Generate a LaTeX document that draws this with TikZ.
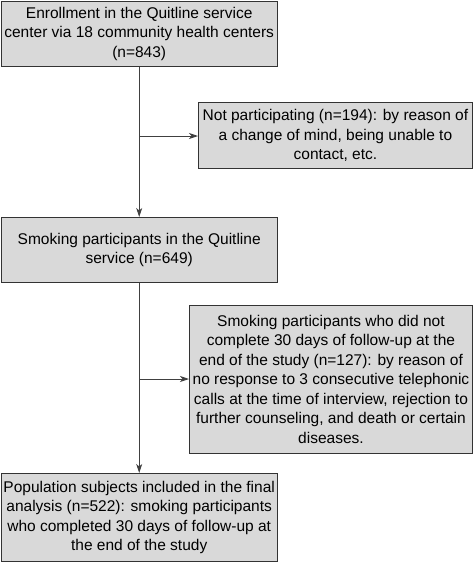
\documentclass[tikz,border=0pt]{standalone}
\usepackage{fontspec}
\setmainfont{Liberation Sans}
\usetikzlibrary{arrows.meta}
\begin{document}
\begin{tikzpicture}[x=1pt,y=-1pt,
  box/.style={draw=black!80, line width=0.9pt, fill=black!15, inner sep=0pt, align=center,
    font=\fontsize{15.5pt}{19.5pt}\selectfont, anchor=north west},
  arr/.style={draw=black!75, line width=0.9pt, -{Stealth[length=9pt,width=6pt,inset=2.5pt]}}]
\useasboundingbox (0,0) rectangle (473,562);
\node[box, minimum width=276.5pt, minimum height=65.5pt] (b1) at (0.5,0.5)
  {Enrollment in the Quitline service\\center via 18 community health centers\\(n=843)};
\node[box, minimum width=274pt, minimum height=66pt] (b2) at (198,102)
  {Not participating (n=194): by reason of\\a change of mind, being unable to\\contact, etc.};
\node[box, minimum width=276.5pt, minimum height=65pt] (b3) at (0.5,217)
  {Smoking participants in the Quitline\\service (n=649)};
\node[box, minimum width=283pt, minimum height=148pt] (b4) at (189,305)
  {Smoking participants who did not\\complete 30 days of follow-up at the\\end of the study (n=127): by reason of\\no response to 3 consecutive telephonic\\calls at the time of interview, rejection to\\further counseling, and death or certain\\diseases.};
\node[box, minimum width=276.5pt, minimum height=88pt] (b5) at (0.5,473)
  {Population subjects included in the final\\analysis (n=522): smoking participants\\who completed 30 days of follow-up at\\the end of the study};
\draw[arr] (b1.south) -- (b3.north);
\draw[arr] (b1.south |- 0,136) coordinate (j1) -- (j1 -| b2.west);
\draw[arr] (b3.south) -- (b5.north);
\draw[arr] (b3.south |- 0,379) coordinate (j2) -- (j2 -| b4.west);
\end{tikzpicture}
\end{document}
